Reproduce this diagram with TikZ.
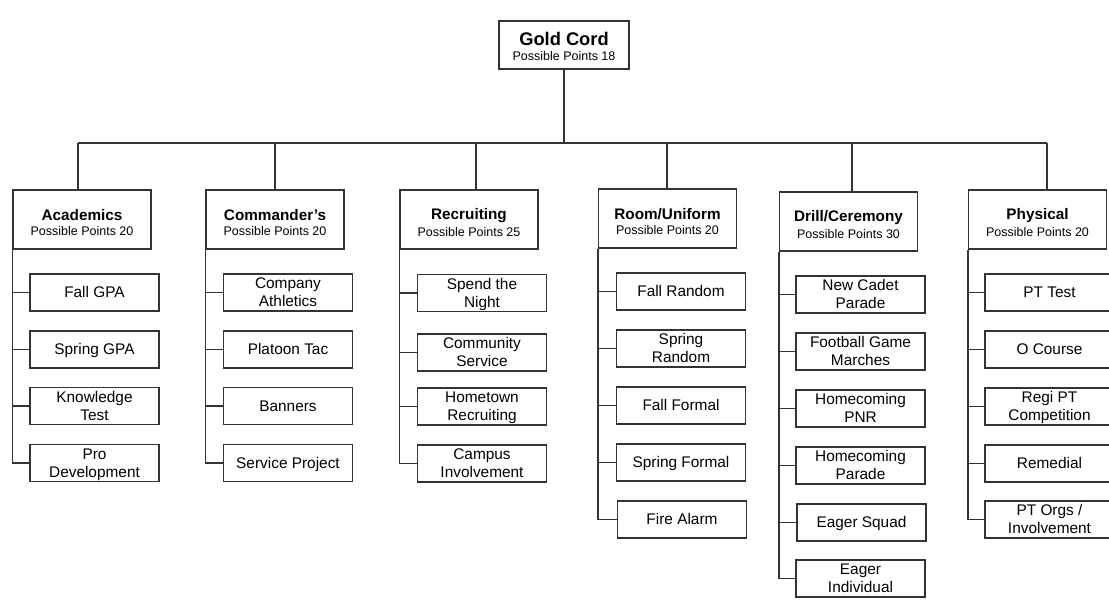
\documentclass[tikz,border=0pt]{standalone}
\usepackage{fontspec}
\setmainfont{Liberation Sans}
\begin{document}
\begin{tikzpicture}[x=1pt,y=-1pt,
  box/.style={draw=black!80, line width=1.2pt, fill=white, inner sep=0pt, align=center, text=black},
  rootbox/.style={box, minimum width=130, minimum height=48},
  catbox/.style={box, minimum width=138, minimum height=59},
  leaf/.style={box, minimum width=129, minimum height=37, font=\fontsize{15.4}{18.3}\selectfont},
  conn/.style={draw=black!80, line width=1.2pt}
]
\useasboundingbox (0,0) rectangle (1109,601);
\fill[white] (0,0) rectangle (1109,601);

\newcommand{\cattext}[2]{{\fontsize{15.3}{17}\selectfont\bfseries\rule{0pt}{17pt}#1}\\[3.5pt]{\fontsize{12.5}{14}\selectfont #2}}
\newcommand{\onel}[1]{\rule[-3.2pt]{0pt}{17pt}#1}
\newcommand{\twol}[2]{\rule{0pt}{13.8pt}#1\\\rule[-3.2pt]{0pt}{3.2pt}#2}

\node[rootbox] (root) at (564,45) {{\fontsize{18.3}{20}\selectfont\bfseries\rule{0pt}{17pt}Gold Cord}\\[3pt]{\fontsize{12.5}{14}\selectfont Possible Points 18}};

\node[catbox] (A) at (82,219.5) {\cattext{Academics}{Possible Points 20}};
\node[catbox] (B) at (275,219.5) {\cattext{Commander’s}{Possible Points 20}};
\node[catbox] (C) at (469,219.5) {\cattext{Recruiting}{Possible Points 25}};
\node[catbox] (D) at (667.5,218.5) {\cattext{Room/Uniform}{Possible Points 20}};
\node[catbox] (E) at (848.5,221.5) {\cattext{Drill/Ceremony}{Possible Points 30}};
\node[catbox] (F) at (1037.5,219.5) {\cattext{Physical}{Possible Points 20}};

\coordinate (tA) at (78,143);
\coordinate (tB) at (275,143);
\coordinate (tC) at (476,143);
\coordinate (tD) at (667,143);
\coordinate (tE) at (852,143);
\coordinate (tF) at (1047,143);

\draw[conn] (root.south) -- (root.south |- tA);
\draw[conn] (tA) -- (tF);
\foreach \t/\c in {tA/A,tB/B,tC/C,tD/D,tE/E,tF/F}
  \draw[conn] (\t) -- (\t |- \c.north);

% Academics
\node[leaf] (a1) at (94.5,292.5) {\onel{Fall GPA}};
\node[leaf] (a2) at (94.5,349.5) {\onel{Spring GPA}};
\node[leaf] (a3) at (94.5,406) {\twol{Knowledge}{Test}};
\node[leaf] (a4) at (94.5,463) {\twol{Pro}{Development}};
% Commander's
\node[leaf] (b1) at (288,292.5) {\twol{Company}{Athletics}};
\node[leaf] (b2) at (288,349.5) {\onel{Platoon Tac}};
\node[leaf] (b3) at (288,406) {\onel{Banners}};
\node[leaf] (b4) at (288,463) {\onel{Service Project}};
% Recruiting
\node[leaf] (c1) at (482,293) {\twol{Spend the}{Night}};
\node[leaf] (c2) at (482,352.5) {\twol{Community}{Service}};
\node[leaf] (c3) at (482,406.5) {\twol{Hometown}{Recruiting}};
\node[leaf] (c4) at (482,463.5) {\twol{Campus}{Involvement}};
% Room/Uniform
\node[leaf] (d1) at (681,291.5) {\onel{Fall Random}};
\node[leaf] (d2) at (681,348.5) {\twol{Spring}{Random}};
\node[leaf] (d3) at (681,405.5) {\onel{Fall Formal}};
\node[leaf] (d4) at (681,462.5) {\onel{Spring Formal}};
\node[leaf] (d5) at (682,519.5) {\onel{Fire Alarm}};
% Drill/Ceremony
\node[leaf] (e1) at (860.5,294.5) {\twol{New Cadet}{Parade}};
\node[leaf] (e2) at (860.5,351.5) {\twol{Football Game}{Marches}};
\node[leaf] (e3) at (860.5,408.5) {\twol{Homecoming}{PNR}};
\node[leaf] (e4) at (860.5,465.5) {\twol{Homecoming}{Parade}};
\node[leaf] (e5) at (861.5,522.5) {\onel{Eager Squad}};
\node[leaf] (e6) at (860.5,578.5) {\twol{Eager}{Individual}};
% Physical
\node[leaf] (f1) at (1049.5,292.5) {\onel{PT Test}};
\node[leaf] (f2) at (1049.5,349.5) {\onel{O Course}};
\node[leaf] (f3) at (1049.5,406.5) {\twol{Regi PT}{Competition}};
\node[leaf] (f4) at (1049.5,463.5) {\onel{Remedial}};
\node[leaf] (f5) at (1049.5,519.5) {\twol{PT Orgs /}{Involvement}};

% spines
\draw[conn] (A.south west) -- (A.south west |- a4.west) -- (a4.west);
\foreach \n in {a1,a2,a3} \draw[conn] (\n.west -| A.south west) -- (\n.west);
\draw[conn] (B.south west) -- (B.south west |- b4.west) -- (b4.west);
\foreach \n in {b1,b2,b3} \draw[conn] (\n.west -| B.south west) -- (\n.west);
\draw[conn] (C.south west) -- (C.south west |- c4.west) -- (c4.west);
\foreach \n in {c1,c2,c3} \draw[conn] (\n.west -| C.south west) -- (\n.west);
\draw[conn] (D.south west) -- (D.south west |- d5.west) -- (d5.west);
\foreach \n in {d1,d2,d3,d4} \draw[conn] (\n.west -| D.south west) -- (\n.west);
\draw[conn] (E.south west) -- (E.south west |- e6.west) -- (e6.west);
\foreach \n in {e1,e2,e3,e4,e5} \draw[conn] (\n.west -| E.south west) -- (\n.west);
\draw[conn] (F.south west) -- (F.south west |- f5.west) -- (f5.west);
\foreach \n in {f1,f2,f3,f4} \draw[conn] (\n.west -| F.south west) -- (\n.west);
\end{tikzpicture}
\end{document}
